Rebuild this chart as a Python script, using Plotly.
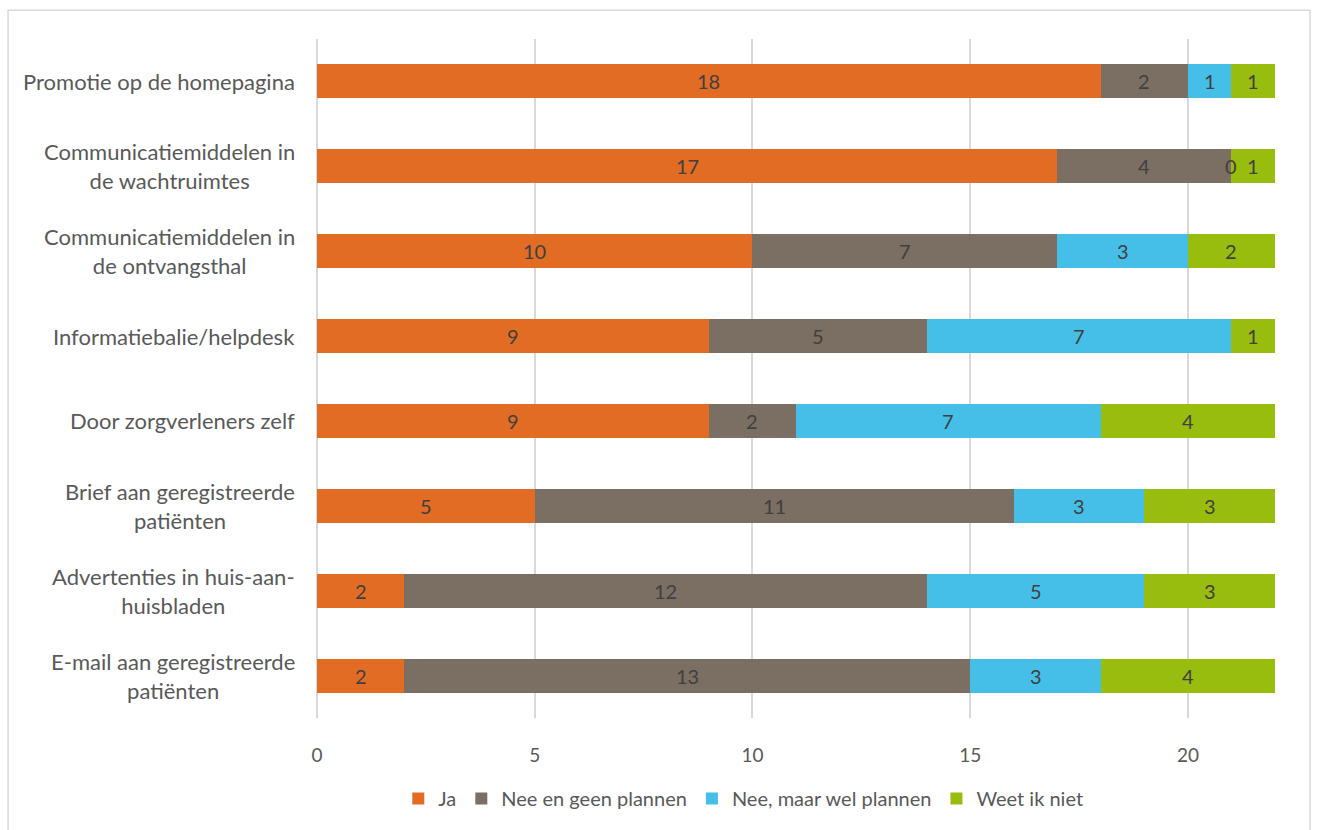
import plotly.graph_objects as go

categories = [
    "Promotie op de homepagina",
    "Communicatiemiddelen in<br>de wachtruimtes",
    "Communicatiemiddelen in<br>de ontvangsthal",
    "Informatiebalie/helpdesk",
    "Door zorgverleners zelf",
    "Brief aan geregistreerde<br>patiënten",
    "Advertenties in huis-aan-<br>huisbladen",
    "E-mail aan geregistreerde<br>patiënten",
]
series_names = ["Ja", "Nee en geen plannen", "Nee, maar wel plannen", "Weet ik niet"]
ja = [18, 17, 10, 9, 9, 5, 2, 2]
nee_geen = [2, 4, 7, 5, 2, 11, 12, 13]
nee_wel = [1, 0, 3, 7, 7, 3, 5, 3]
weet_niet = [1, 1, 2, 1, 4, 3, 3, 4]
x_ticks = [0, 5, 10, 15, 20]

colors = ["#E36C25", "#7B6E62", "#45BFE8", "#98BD0F"]
series = [ja, nee_geen, nee_wel, weet_niet]
FONT = "Lato, Open Sans, sans-serif"
TXT = "#595959"

fig = go.Figure()
for name, vals, col in zip(series_names, series, colors):
    fig.add_trace(go.Bar(
        y=categories, x=vals, name=name, orientation="h",
        marker=dict(color=col, line=dict(width=0)),
    ))

annotations = []
cum = [0] * len(categories)
for vals in series:
    for i, v in enumerate(vals):
        annotations.append(dict(
            x=cum[i] + v / 2, y=categories[i], xref="x", yref="y",
            text=str(v), showarrow=False,
            font=dict(family=FONT, size=20, color="#404040"),
            xanchor="center", yanchor="middle",
        ))
        cum[i] += v

for c in categories:
    annotations.append(dict(
        x=-0.021, y=c, xref="paper", yref="y", text=c, showarrow=False,
        xanchor="right", yanchor="middle", align="center",
        font=dict(family=FONT, size=22, color=TXT),
    ))

fig.update_layout(
    width=1318, height=830,
    margin=dict(l=317, r=43, t=39, b=107),
    barmode="stack", bargap=0.6,
    plot_bgcolor="white", paper_bgcolor="white",
    font=dict(family=FONT, color=TXT),
    xaxis=dict(
        range=[0, 22], tickvals=x_ticks, showgrid=True,
        gridcolor="#D9D9D9", gridwidth=1.5, zeroline=True,
        zerolinecolor="#D9D9D9", zerolinewidth=1.5,
        tickfont=dict(family=FONT, size=19, color=TXT),
        ticks="", ticklabelstandoff=24,
    ),
    yaxis=dict(
        categoryorder="array", categoryarray=categories,
        autorange="reversed", showticklabels=False, showgrid=False,
        zeroline=False,
    ),
    legend=dict(
        orientation="h", x=0.445, xanchor="center", y=-0.09, yanchor="top",
        font=dict(family=FONT, size=20, color=TXT),
        itemwidth=30, traceorder="normal", itemclick=False,
        tracegroupgap=0,
    ),
    annotations=annotations,
    shapes=[dict(
        type="rect", xref="paper", yref="paper",
        x0=-0.3225, x1=1.0365, y0=-0.2, y1=1.0424,
        line=dict(color="#D9D9D9", width=1.5), fillcolor="rgba(0,0,0,0)",
        layer="below",
    )],
)

fig.write_html("out.html")
